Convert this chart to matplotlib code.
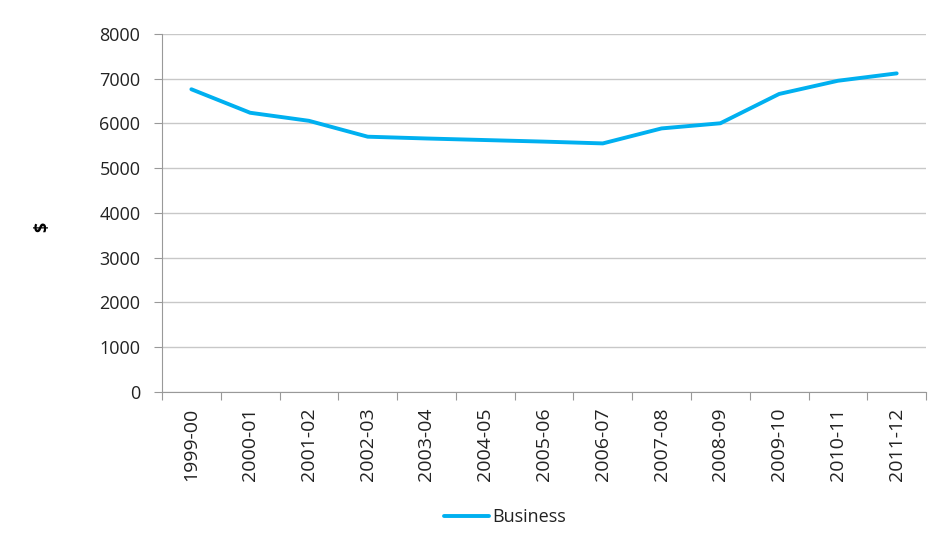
import matplotlib.pyplot as plt
import numpy as np

plt.rcParams['font.family'] = ['Open Sans', 'DejaVu Sans']

years = ['1999-00', '2000-01', '2001-02', '2002-03', '2003-04', '2004-05', '2005-06',
         '2006-07', '2007-08', '2008-09', '2009-10', '2010-11', '2011-12']
business = [6765, 6240, 6060, 5705, 5665, 5630, 5595, 5555, 5890, 6005, 6660, 6955, 7120]

fig = plt.figure(figsize=(9.44, 5.52), dpi=100)
ax = fig.add_axes([0.1716, 0.2899, 0.8094, 0.6485])

x = np.arange(len(years))
ax.plot(x, business, color='#00B0F0', lw=2.8, solid_capstyle='round', label='Business')

ax.set_xlim(-0.5, len(years) - 0.5)
ax.set_ylim(0, 8000)
ax.set_yticks(np.arange(0, 8001, 1000))
ax.yaxis.grid(True, color='#c8c8c8', lw=1)
ax.set_axisbelow(True)

# category ticks sit between the labels
ax.set_xticks(np.arange(-0.5, len(years)), minor=False)
ax.set_xticklabels([])
ax.set_xticks(x, minor=True)
ax.set_xticklabels(years, minor=True, rotation=90, fontsize=14, color='#222222')
ax.tick_params(axis='x', which='minor', length=0, pad=11)
ax.tick_params(axis='x', which='major', length=5.5, color='#999999')
ax.tick_params(axis='y', length=5.5, color='#999999', labelsize=13, labelcolor='#222222', pad=10)

for side in ['top', 'right']:
    ax.spines[side].set_visible(False)
for side in ['left', 'bottom']:
    ax.spines[side].set_color('#999999')

fig.text(0.0445, 0.589, '$', rotation=90, fontsize=13, fontweight='bold',
         ha='center', va='center')

fig.legend(loc='center', bbox_to_anchor=(0.535, 0.063), frameon=False, fontsize=13,
           handlelength=2.5, handletextpad=0.2, labelcolor='#222222')

fig.savefig('out.png', dpi=100)
